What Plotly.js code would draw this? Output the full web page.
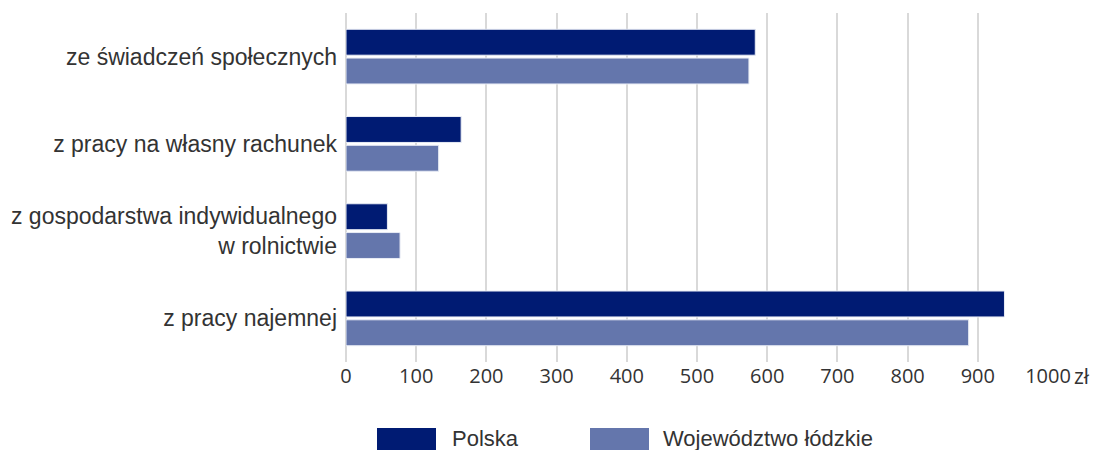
<!DOCTYPE html>
<html><head><meta charset="utf-8">
<script src="https://cdn.plot.ly/plotly-3.0.1.min.js"></script>
<style>html,body{margin:0;padding:0;background:#fff}#chart{width:1098px;height:450px}</style>
</head><body><div id="chart"></div>
<script>
const categories = ["ze świadczeń społecznych", "z pracy na własny rachunek", "z gospodarstwa indywidualnego<br>w rolnictwie", "z pracy najemnej"];
const polska = [583, 164, 59, 938];
const lodzkie = [574, 132, 77, 887];
const seriesNames = ["Polska", "Województwo łódzkie"];
const tickVals = [0,100,200,300,400,500,600,700,800,900,1000];
const tickText = ["0","100","200","300","400","500","600","700","800","900","1000"];
const unitLabel = "zł";
const colors = ["#001b73", "#6476ac"];

const traces = [
  {type:'bar', orientation:'h', y:categories, x:polska, name:seriesNames[0], marker:{color:colors[0], line:{color:'#e8ecf5', width:1}}, showlegend:false, hoverinfo:'x'},
  {type:'bar', orientation:'h', y:categories, x:lodzkie, name:seriesNames[1], marker:{color:colors[1], line:{color:'#e8ecf5', width:1}}, showlegend:false, hoverinfo:'x'}
];
const layout = {
  width:1098, height:450,
  margin:{l:346, r:50, t:13, b:88},
  paper_bgcolor:'#fff', plot_bgcolor:'#fff',
  barmode:'group', bargap:0.34, bargroupgap:0.1,
  font:{family:'Liberation Sans, Arial, sans-serif', color:'#333'},
  xaxis:{range:[0,1000], tickvals:tickVals, ticktext:tickText, showgrid:true, gridcolor:'#d9d9d9', gridwidth:2, zeroline:true, zerolinecolor:'#d9d9d9', zerolinewidth:2, showline:false, ticks:'', tickfont:{family:'Open Sans, sans-serif', size:20, color:'#333'}, ticklabelstandoff:0, fixedrange:true},
  yaxis:{type:'category', autorange:'reversed', showgrid:false, zeroline:false, showline:false, ticks:'', ticklabelstandoff:8, tickfont:{family:'Liberation Sans, Arial, sans-serif', size:23, color:'#333'}},
  shapes:[
    {type:'rect', xref:'paper', yref:'paper', x0:(377-346)/702, x1:(436-346)/702, y0:-0.3, y1:-(428-362)/349, fillcolor:colors[0], line:{width:0}},
    {type:'rect', xref:'paper', yref:'paper', x0:(590-346)/702, x1:(649-346)/702, y0:-0.3, y1:-(428-362)/349, fillcolor:colors[1], line:{width:0}}
  ],
  annotations:[
    {xref:'x', yref:'paper', x:1000, xshift:24, y:-(376-362)/349, xanchor:'left', yanchor:'middle', text:unitLabel, showarrow:false, font:{family:'Open Sans, sans-serif', size:21, color:'#333'}},
    {xref:'paper', yref:'paper', x:(450-346)/702, y:-(438-362)/349, xanchor:'left', yanchor:'middle', text:seriesNames[0], showarrow:false, font:{size:22, color:'#333'}},
    {xref:'paper', yref:'paper', x:(661-346)/702, y:-(438-362)/349, xanchor:'left', yanchor:'middle', text:seriesNames[1], showarrow:false, font:{size:22, color:'#333'}}
  ]
};
Plotly.newPlot('chart', traces, layout, {displayModeBar:false, staticPlot:true});
</script></body></html>
